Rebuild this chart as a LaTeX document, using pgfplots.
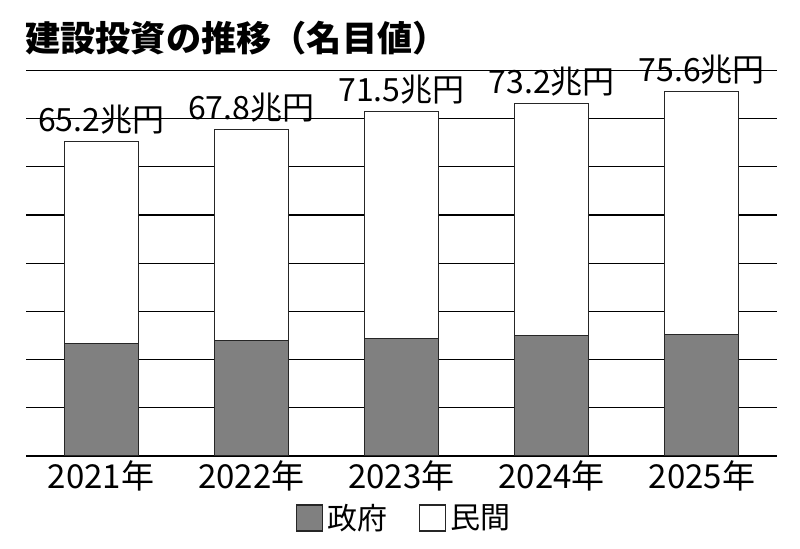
\documentclass[border=0pt]{standalone}
\usepackage{pgfplots}
\pgfplotsset{compat=1.18}
\usepackage{fontspec}
\setmainfont{Noto Sans CJK JP}
\begin{document}
\begin{tikzpicture}[x=1pt,y=1pt]
\path[use as bounding box] (-13,-46.5) rectangle (387,228);
\node[anchor=west, inner sep=0pt, font=\fontsize{17.6}{20}\selectfont\bfseries] at (-0.5,209) {建設投資の推移（名目値）};
% labels (drawn first, so that the grid lies over them)
\begin{axis}[at={(0,0)}, anchor=south west, scale only axis,
  width=375.5pt, height=192.8pt, xmin=-0.5, xmax=4.5, ymin=0, ymax=80,
  axis lines=none, clip=false,
  nodes near coords, point meta=explicit symbolic,
  every node near coord/.append style={anchor=base, yshift=5pt, inner sep=0pt, font=\fontsize{16}{19}\selectfont, text=black}]
\addplot[ybar, bar width=37pt, draw=none, fill=none] coordinates {
  (0,65.2) [65.2兆円]
  (1,67.8) [67.8兆円]
  (2,71.5) [71.5兆円]
  (3,73.2) [73.2兆円]
  (4,75.6) [75.6兆円]
};
\end{axis}
\begin{axis}[at={(0,0)}, anchor=south west, scale only axis,
  width=375.5pt, height=192.8pt, xmin=-0.5, xmax=4.5, ymin=0, ymax=80,
  ybar stacked, bar width=37pt,
  axis line style={draw=none},
  ytick={0,10,...,80}, yticklabels={}, ymajorgrids,
  major grid style={black, line width=0.6pt},
  xtick={0,1,2,3,4},
  xticklabels={2021年,2022年,2023年,2024年,2025年},
  major tick length=0pt,
  xticklabel style={anchor=base, yshift=-16.5pt, font=\fontsize{16.5}{19}\selectfont},
  /pgf/number format/assume math mode=true,
  legend columns=2,
  legend style={at={(0.505,-0.161)}, anchor=center, draw=none, fill=none,
    font=\fontsize{15}{18}\selectfont,
    /tikz/every even column/.append style={column sep=14pt}},
  legend image code/.code={\draw[#1] (0pt,-6.5pt) rectangle (13pt,6.5pt);},
  ]
\addplot[fill=gray, draw=black!85, line width=0.6pt] coordinates {
  (0,23.4) (1,23.9) (2,24.4) (3,25.0) (4,25.2)};
\addlegendentry{政府}
\addplot[fill=white, draw=black!85, line width=0.6pt] coordinates {
  (0,41.8) (1,43.9) (2,47.1) (3,48.2) (4,50.4)};
\addlegendentry{民間}
\end{axis}
\end{tikzpicture}
\end{document}
